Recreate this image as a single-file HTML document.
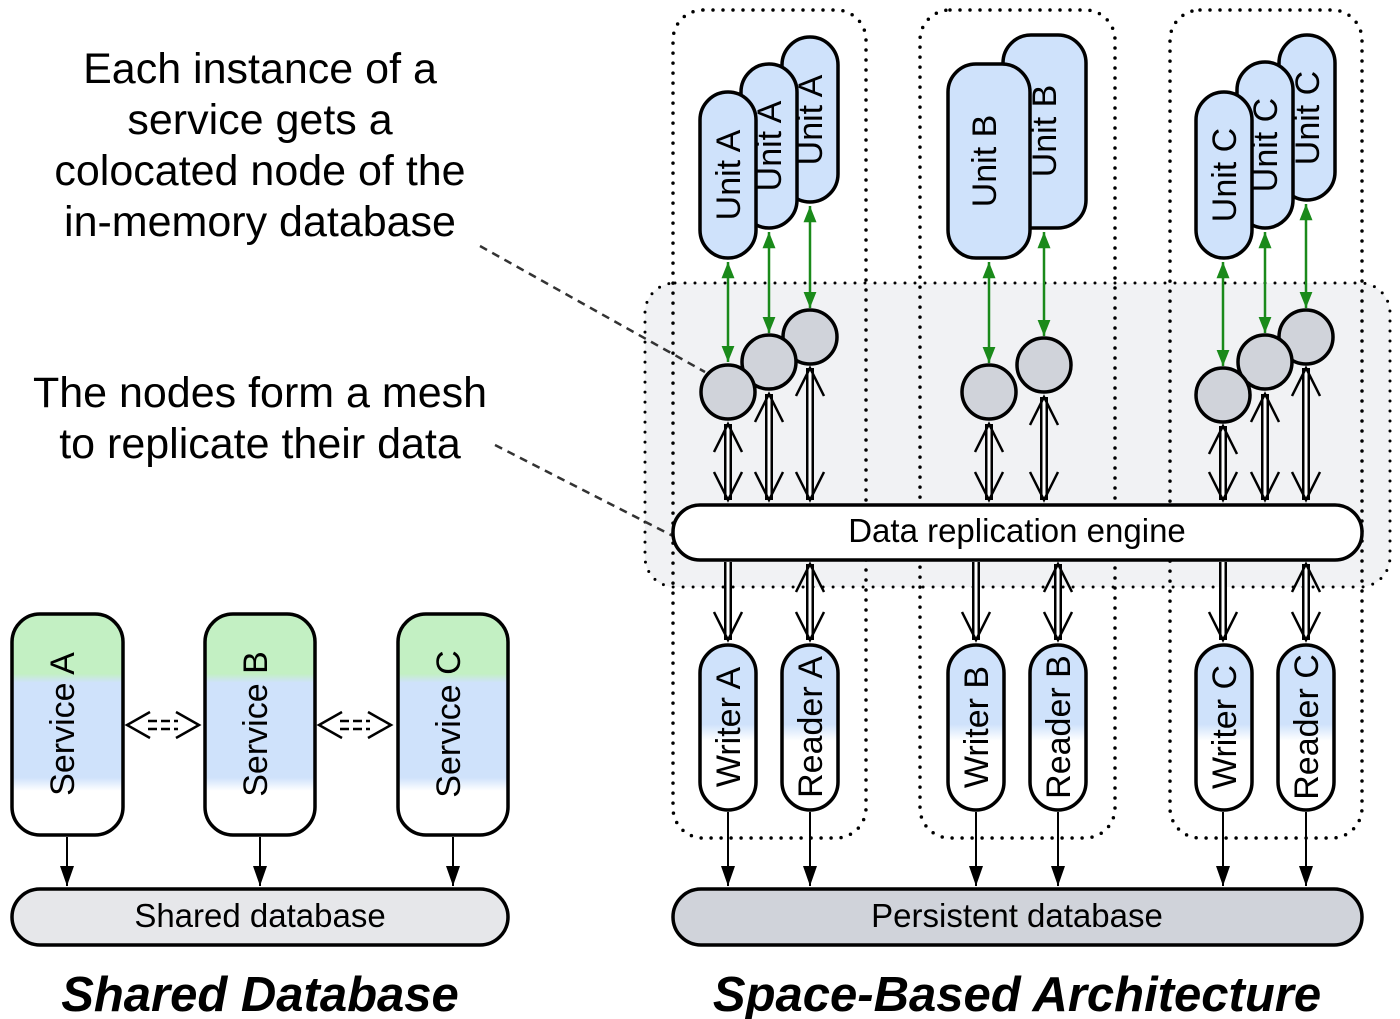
<!DOCTYPE html>
<html><head><meta charset="utf-8"><style>
html,body{margin:0;padding:0;background:#fff;}
svg{display:block;font-family:"Liberation Sans",sans-serif;}
</style></head><body>
<svg width="1400" height="1019" viewBox="0 0 1400 1019" xmlns="http://www.w3.org/2000/svg">
<defs>
<linearGradient id="svc" x1="0" y1="0" x2="0" y2="1">
<stop offset="0" stop-color="#c3f0c3"/><stop offset="0.27" stop-color="#c3f0c3"/>
<stop offset="0.31" stop-color="#cfe2fb"/><stop offset="0.74" stop-color="#cfe2fb"/>
<stop offset="0.80" stop-color="#fff"/><stop offset="1" stop-color="#fff"/>
</linearGradient>
<linearGradient id="wr" x1="0" y1="0" x2="0" y2="1">
<stop offset="0" stop-color="#cfe2fb"/><stop offset="0.48" stop-color="#cfe2fb"/>
<stop offset="0.58" stop-color="#fff"/><stop offset="1" stop-color="#fff"/>
</linearGradient>
<marker id="g" viewBox="0 0 10 10" refX="10" refY="5" markerWidth="6.5" markerHeight="6.5" orient="auto-start-reverse" markerUnits="strokeWidth">
<path d="M0,1 L10,5 L0,9 z" fill="#1a8a1a"/></marker>
<marker id="b" viewBox="0 0 10 10" refX="10" refY="5" markerWidth="10" markerHeight="10" orient="auto" markerUnits="strokeWidth">
<path d="M0,1.5 L10,5 L0,8.5 z" fill="#000"/></marker>
</defs>

<rect x="645" y="283" width="745" height="304" rx="30" fill="#f1f2f4" stroke="#000" stroke-width="3" stroke-dasharray="0 10" stroke-linecap="round"/>
<g fill="none" stroke="#000" stroke-width="3.5" stroke-dasharray="0 10" stroke-linecap="round">
<rect x="673" y="10" width="193" height="828" rx="30"/>
<rect x="920" y="10" width="195" height="828" rx="30"/>
<rect x="1170" y="10" width="192" height="828" rx="30"/>
</g>

<g stroke="#333" stroke-width="2.5" stroke-dasharray="8 6" fill="none">
<line x1="480" y1="246" x2="705" y2="372"/>
<line x1="495" y1="445" x2="675" y2="537"/>
</g>

<g stroke="#000" stroke-width="3.5" fill="#cfe2fb">
<rect x="782" y="37" width="56" height="165" rx="28"/>
<rect x="741" y="64" width="56" height="164" rx="28"/>
<rect x="700" y="92" width="56" height="166" rx="28"/>
<rect x="1003" y="35" width="83" height="193" rx="28"/>
<rect x="948" y="64" width="82" height="194" rx="28"/>
<rect x="1279" y="35" width="56" height="165" rx="28"/>
<rect x="1237" y="62" width="56" height="166" rx="28"/>
<rect x="1196" y="92" width="56" height="166" rx="28"/>
</g>
<g font-size="34" text-anchor="middle" fill="#000">
<text transform="translate(822,120) rotate(-90)">Unit A</text>
<text transform="translate(781,146) rotate(-90)">Unit A</text>
<text transform="translate(740,175) rotate(-90)">Unit A</text>
<text transform="translate(1056,131) rotate(-90)">Unit B</text>
<text transform="translate(996,161) rotate(-90)">Unit B</text>
<text transform="translate(1319,118) rotate(-90)">Unit C</text>
<text transform="translate(1277,145) rotate(-90)">Unit C</text>
<text transform="translate(1236,175) rotate(-90)">Unit C</text>
</g>

<g stroke="#1a8a1a" stroke-width="2.5" marker-start="url(#g)" marker-end="url(#g)">
<line x1="728" y1="262" x2="728" y2="362"/>
<line x1="769" y1="232" x2="769" y2="333"/>
<line x1="810" y1="206" x2="810" y2="308"/>
<line x1="989" y1="262" x2="989" y2="363"/>
<line x1="1044" y1="232" x2="1044" y2="336"/>
<line x1="1223" y1="262" x2="1223" y2="366"/>
<line x1="1265" y1="232" x2="1265" y2="333"/>
<line x1="1306" y1="204" x2="1306" y2="308"/>
</g>

<g fill="#d0d3da" stroke="#000" stroke-width="3.5">
<circle cx="810" cy="337" r="27"/>
<circle cx="769" cy="362" r="27"/>
<circle cx="728" cy="392" r="27"/>
<circle cx="989" cy="392" r="27"/>
<circle cx="1044" cy="365" r="27"/>
<circle cx="1306" cy="337" r="27"/>
<circle cx="1265" cy="362" r="27"/>
<circle cx="1223" cy="395" r="27"/>
</g>

<g stroke="#000" stroke-width="8">
<line x1="728" y1="424" x2="728" y2="500"/><line x1="769" y1="394" x2="769" y2="500"/><line x1="810" y1="368" x2="810" y2="500"/>
<line x1="989" y1="424" x2="989" y2="500"/><line x1="1044" y1="397" x2="1044" y2="500"/>
<line x1="1223" y1="426" x2="1223" y2="500"/><line x1="1265" y1="394" x2="1265" y2="500"/><line x1="1306" y1="368" x2="1306" y2="500"/>
<line x1="728" y1="562" x2="728" y2="640"/><line x1="810" y1="564" x2="810" y2="640"/>
<line x1="976" y1="562" x2="976" y2="640"/><line x1="1058" y1="564" x2="1058" y2="640"/>
<line x1="1223" y1="562" x2="1223" y2="640"/><line x1="1306" y1="564" x2="1306" y2="640"/>
</g>
<g stroke="#fff" stroke-width="3">
<line x1="728" y1="426" x2="728" y2="498"/><line x1="769" y1="396" x2="769" y2="498"/><line x1="810" y1="370" x2="810" y2="498"/>
<line x1="989" y1="426" x2="989" y2="498"/><line x1="1044" y1="399" x2="1044" y2="498"/>
<line x1="1223" y1="428" x2="1223" y2="498"/><line x1="1265" y1="396" x2="1265" y2="498"/><line x1="1306" y1="370" x2="1306" y2="498"/>
<line x1="728" y1="560" x2="728" y2="638"/><line x1="810" y1="566" x2="810" y2="638"/>
<line x1="976" y1="560" x2="976" y2="638"/><line x1="1058" y1="566" x2="1058" y2="638"/>
<line x1="1223" y1="560" x2="1223" y2="638"/><line x1="1306" y1="566" x2="1306" y2="638"/>
</g>
<g stroke="#000" stroke-width="2.5" fill="none">
<polyline points="714,452 728,424 742,452"/><polyline points="755,422 769,394 783,422"/><polyline points="796,396 810,368 824,396"/>
<polyline points="975,452 989,424 1003,452"/><polyline points="1030,425 1044,397 1058,425"/>
<polyline points="1209,454 1223,426 1237,454"/><polyline points="1251,422 1265,394 1279,422"/><polyline points="1292,396 1306,368 1320,396"/>
<polyline points="796,592 810,564 824,592"/><polyline points="1044,592 1058,564 1072,592"/><polyline points="1292,592 1306,564 1320,592"/>
<polyline points="714,472 728,500 742,472"/><polyline points="755,472 769,500 783,472"/><polyline points="796,472 810,500 824,472"/>
<polyline points="975,472 989,500 1003,472"/><polyline points="1030,472 1044,500 1058,472"/>
<polyline points="1209,472 1223,500 1237,472"/><polyline points="1251,472 1265,500 1279,472"/><polyline points="1292,472 1306,500 1320,472"/>
<polyline points="714,612 728,640 742,612"/><polyline points="796,612 810,640 824,612"/>
<polyline points="962,612 976,640 990,612"/><polyline points="1044,612 1058,640 1072,612"/>
<polyline points="1209,612 1223,640 1237,612"/><polyline points="1292,612 1306,640 1320,612"/>
</g>

<rect x="673" y="505" width="689" height="55" rx="27" fill="#fff" stroke="#000" stroke-width="3.5"/>
<text x="1017" y="542" font-size="33" text-anchor="middle">Data replication engine</text>

<g stroke="#000" stroke-width="3.5" fill="url(#wr)">
<rect x="700" y="645" width="56" height="165" rx="28"/>
<rect x="782" y="645" width="56" height="165" rx="28"/>
<rect x="948" y="645" width="56" height="165" rx="28"/>
<rect x="1030" y="645" width="56" height="165" rx="28"/>
<rect x="1196" y="645" width="56" height="165" rx="28"/>
<rect x="1278" y="645" width="56" height="165" rx="28"/>
</g>
<g font-size="34" text-anchor="middle">
<text transform="translate(740,727) rotate(-90)">Writer A</text>
<text transform="translate(822,727) rotate(-90)">Reader A</text>
<text transform="translate(988,727) rotate(-90)">Writer B</text>
<text transform="translate(1070,727) rotate(-90)">Reader B</text>
<text transform="translate(1236,727) rotate(-90)">Writer C</text>
<text transform="translate(1318,727) rotate(-90)">Reader C</text>
</g>
<g stroke="#000" stroke-width="2" marker-end="url(#b)">
<line x1="728" y1="812" x2="728" y2="886"/><line x1="810" y1="812" x2="810" y2="886"/>
<line x1="976" y1="812" x2="976" y2="886"/><line x1="1058" y1="812" x2="1058" y2="886"/>
<line x1="1223" y1="812" x2="1223" y2="886"/><line x1="1306" y1="812" x2="1306" y2="886"/>
</g>
<rect x="673" y="889" width="689" height="56" rx="28" fill="#d0d3da" stroke="#000" stroke-width="3.5"/>
<text x="1017" y="927" font-size="33" text-anchor="middle">Persistent database</text>

<g stroke="#000" stroke-width="3.5" fill="url(#svc)">
<rect x="12" y="614" width="111" height="221" rx="28"/>
<rect x="205" y="614" width="110" height="221" rx="28"/>
<rect x="398" y="614" width="110" height="221" rx="28"/>
</g>
<g font-size="34" text-anchor="middle">
<text transform="translate(74,724) rotate(-90)">Service A</text>
<text transform="translate(267,724) rotate(-90)">Service B</text>
<text transform="translate(460,724) rotate(-90)">Service C</text>
</g>
<g stroke="#000" stroke-width="2.5" fill="none">
<polyline points="150,712 127,725 150,738"/><polyline points="176,712 199,725 176,738"/>
<line x1="148" y1="721" x2="178" y2="721" stroke-dasharray="9 4"/><line x1="148" y1="729" x2="178" y2="729" stroke-dasharray="9 4"/>
<polyline points="342,712 319,725 342,738"/><polyline points="368,712 391,725 368,738"/>
<line x1="340" y1="721" x2="370" y2="721" stroke-dasharray="9 4"/><line x1="340" y1="729" x2="370" y2="729" stroke-dasharray="9 4"/>
</g>
<g stroke="#000" stroke-width="2" marker-end="url(#b)">
<line x1="67" y1="837" x2="67" y2="886"/><line x1="260" y1="837" x2="260" y2="886"/><line x1="453" y1="837" x2="453" y2="886"/>
</g>
<rect x="12" y="889" width="496" height="56" rx="28" fill="#e6e7ea" stroke="#000" stroke-width="3.5"/>
<text x="260" y="927" font-size="33" text-anchor="middle">Shared database</text>

<g font-size="43" text-anchor="middle">
<text x="260" y="83">Each instance of a</text>
<text x="260" y="134">service gets a</text>
<text x="260" y="185">colocated node of the</text>
<text x="260" y="236">in-memory database</text>
<text x="260" y="407">The nodes form a mesh</text>
<text x="260" y="458">to replicate their data</text>
</g>
<g font-size="49" font-weight="bold" font-style="italic" text-anchor="middle">
<text x="260" y="1011">Shared Database</text>
<text x="1017" y="1011">Space-Based Architecture</text>
</g>
</svg>
</body></html>
